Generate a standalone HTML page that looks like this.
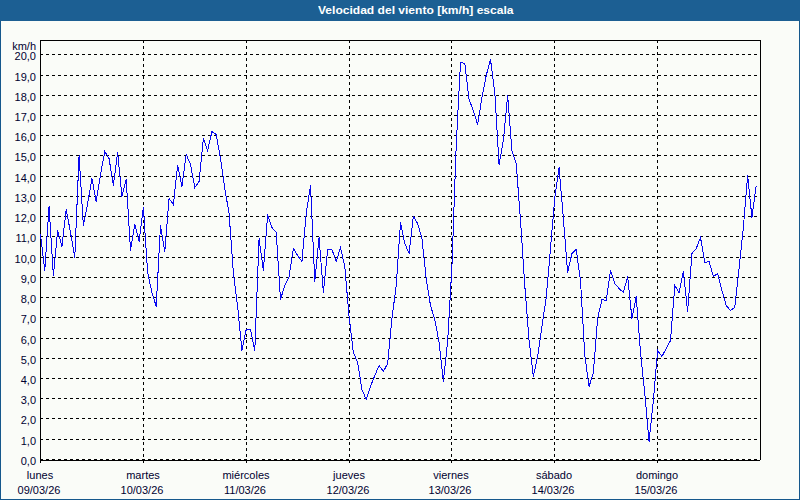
<!DOCTYPE html>
<html><head><meta charset="utf-8"><title>Velocidad del viento</title>
<style>
html,body{margin:0;padding:0;}
body{width:800px;height:500px;position:relative;overflow:hidden;background:#fafcf8;font-family:"Liberation Sans",sans-serif;}
#hdr{position:absolute;left:0;top:0;width:800px;height:21px;background:#1c5f93;}
#ttl{position:absolute;left:318px;top:3px;white-space:nowrap;color:#fff;font-weight:bold;font-size:11px;line-height:14px;transform:scaleX(1.095);transform-origin:0 0;}
#bl{position:absolute;left:0;top:21px;width:1px;height:479px;background:#15578c;}
#br{position:absolute;left:799px;top:21px;width:1px;height:479px;background:#15578c;}
#bb{position:absolute;left:0;top:499px;width:800px;height:1px;background:#15578c;}
.yl{position:absolute;left:0;width:36px;text-align:right;font-size:11px;line-height:14px;color:#000030;white-space:nowrap;}
.xl{position:absolute;width:80px;text-align:center;font-size:11px;line-height:14px;color:#000030;white-space:nowrap;}
#unit{position:absolute;left:0;top:39px;width:36px;text-align:right;font-size:11px;line-height:14px;color:#000030;}
</style></head><body>
<div id="hdr"></div>
<div id="ttl">Velocidad del viento [km/h] escala</div>
<svg width="800" height="500" style="position:absolute;left:0;top:0" shape-rendering="crispEdges"><line x1="40" y1="459.5" x2="760" y2="459.5" stroke="#000" stroke-width="1" stroke-dasharray="3 3"/><line x1="40" y1="439.5" x2="760" y2="439.5" stroke="#000" stroke-width="1" stroke-dasharray="3 3"/><line x1="40" y1="418.5" x2="760" y2="418.5" stroke="#000" stroke-width="1" stroke-dasharray="3 3"/><line x1="40" y1="398.5" x2="760" y2="398.5" stroke="#000" stroke-width="1" stroke-dasharray="3 3"/><line x1="40" y1="378.5" x2="760" y2="378.5" stroke="#000" stroke-width="1" stroke-dasharray="3 3"/><line x1="40" y1="358.5" x2="760" y2="358.5" stroke="#000" stroke-width="1" stroke-dasharray="3 3"/><line x1="40" y1="338.5" x2="760" y2="338.5" stroke="#000" stroke-width="1" stroke-dasharray="3 3"/><line x1="40" y1="317.5" x2="760" y2="317.5" stroke="#000" stroke-width="1" stroke-dasharray="3 3"/><line x1="40" y1="297.5" x2="760" y2="297.5" stroke="#000" stroke-width="1" stroke-dasharray="3 3"/><line x1="40" y1="277.5" x2="760" y2="277.5" stroke="#000" stroke-width="1" stroke-dasharray="3 3"/><line x1="40" y1="257.5" x2="760" y2="257.5" stroke="#000" stroke-width="1" stroke-dasharray="3 3"/><line x1="40" y1="236.5" x2="760" y2="236.5" stroke="#000" stroke-width="1" stroke-dasharray="3 3"/><line x1="40" y1="216.5" x2="760" y2="216.5" stroke="#000" stroke-width="1" stroke-dasharray="3 3"/><line x1="40" y1="196.5" x2="760" y2="196.5" stroke="#000" stroke-width="1" stroke-dasharray="3 3"/><line x1="40" y1="176.5" x2="760" y2="176.5" stroke="#000" stroke-width="1" stroke-dasharray="3 3"/><line x1="40" y1="155.5" x2="760" y2="155.5" stroke="#000" stroke-width="1" stroke-dasharray="3 3"/><line x1="40" y1="135.5" x2="760" y2="135.5" stroke="#000" stroke-width="1" stroke-dasharray="3 3"/><line x1="40" y1="115.5" x2="760" y2="115.5" stroke="#000" stroke-width="1" stroke-dasharray="3 3"/><line x1="40" y1="95.5" x2="760" y2="95.5" stroke="#000" stroke-width="1" stroke-dasharray="3 3"/><line x1="40" y1="75.5" x2="760" y2="75.5" stroke="#000" stroke-width="1" stroke-dasharray="3 3"/><line x1="40" y1="54.5" x2="760" y2="54.5" stroke="#000" stroke-width="1" stroke-dasharray="3 3"/><line x1="143.5" y1="40" x2="143.5" y2="460" stroke="#000" stroke-width="1" stroke-dasharray="3 3"/><rect x="143" y="460" width="1" height="3" fill="#000"/><line x1="246.5" y1="40" x2="246.5" y2="460" stroke="#000" stroke-width="1" stroke-dasharray="3 3"/><rect x="246" y="460" width="1" height="3" fill="#000"/><line x1="349.5" y1="40" x2="349.5" y2="460" stroke="#000" stroke-width="1" stroke-dasharray="3 3"/><rect x="349" y="460" width="1" height="3" fill="#000"/><line x1="451.5" y1="40" x2="451.5" y2="460" stroke="#000" stroke-width="1" stroke-dasharray="3 3"/><rect x="451" y="460" width="1" height="3" fill="#000"/><line x1="554.5" y1="40" x2="554.5" y2="460" stroke="#000" stroke-width="1" stroke-dasharray="3 3"/><rect x="554" y="460" width="1" height="3" fill="#000"/><line x1="657.5" y1="40" x2="657.5" y2="460" stroke="#000" stroke-width="1" stroke-dasharray="3 3"/><rect x="657" y="460" width="1" height="3" fill="#000"/><rect x="40" y="40" width="721" height="1" fill="#000"/><rect x="40" y="40" width="1" height="423" fill="#000"/><rect x="760" y="40" width="1" height="420" fill="#000"/><rect x="40" y="460" width="720" height="1" fill="#000"/><polyline fill="none" stroke="#0808f0" stroke-width="1" points="40.50,234.5 44.79,270.5 49.07,206.5 53.36,275.5 57.64,230.5 61.93,246.5 66.21,209.5 70.50,232.5 74.79,257.5 79.07,155.5 83.36,225.5 87.64,203.5 91.93,178.5 96.21,201.5 100.50,174.5 104.79,151.5 109.07,158.5 113.36,185.5 117.64,152.5 121.93,196.5 126.21,179.5 130.50,250.5 134.79,224.5 139.07,241.5 143.36,207.5 147.64,272.5 151.93,292.5 156.21,306.5 160.50,225.5 164.79,251.5 169.07,198.5 173.36,204.5 177.64,165.5 181.93,186.5 186.21,154.5 190.50,164.5 194.79,187.5 199.07,181.5 203.36,138.5 207.64,150.5 211.93,131.5 216.21,134.5 220.50,158.5 224.79,188.5 229.07,213.5 233.36,272.5 237.64,306.5 241.93,350.5 246.21,329.5 250.50,329.5 254.79,350.5 259.07,238.5 263.36,270.5 267.64,214.5 271.93,227.5 276.21,232.5 280.50,299.5 284.79,285.5 289.07,276.5 293.36,248.5 297.64,255.5 301.93,261.5 306.21,213.5 310.50,185.5 314.79,281.5 319.07,237.5 323.36,292.5 327.64,249.5 331.93,249.5 336.21,261.5 340.50,247.5 344.79,266.5 349.07,316.5 353.36,352.5 357.64,362.5 361.93,389.5 366.21,399.5 370.50,386.5 374.79,375.5 379.07,365.5 383.36,371.5 387.64,363.5 391.93,318.5 396.21,285.5 400.50,222.5 404.79,243.5 409.07,253.5 413.36,216.5 417.64,223.5 421.93,238.5 426.21,278.5 430.50,305.5 434.79,319.5 439.07,342.5 443.36,381.5 447.64,341.5 451.93,266.5 456.21,145.5 460.50,62.5 464.79,63.5 469.07,99.5 473.36,110.5 477.64,124.5 481.93,97.5 486.21,75.5 490.50,59.5 494.79,92.5 499.07,164.5 503.36,140.5 507.64,95.5 511.93,150.5 516.21,163.5 520.50,220.5 524.79,285.5 529.07,340.5 533.36,376.5 537.64,356.5 541.93,326.5 546.21,297.5 550.50,248.5 554.79,197.5 559.07,167.5 563.36,218.5 567.64,272.5 571.93,253.5 576.21,249.5 580.50,280.5 584.79,355.5 589.07,386.5 593.36,372.5 597.64,318.5 601.93,299.5 606.21,300.5 610.50,270.5 614.79,283.5 619.07,288.5 623.36,292.5 627.64,276.5 631.93,318.5 636.21,296.5 640.50,352.5 644.79,393.5 649.07,441.5 653.36,400.5 657.64,350.5 661.93,356.5 666.21,348.5 670.50,340.5 674.79,285.5 679.07,292.5 683.36,271.5 687.64,311.5 691.93,253.5 696.21,248.5 700.50,237.5 704.79,262.5 709.07,261.5 713.36,276.5 717.64,273.5 721.93,290.5 726.21,305.5 730.50,310.5 734.79,307.5 739.07,268.5 743.36,227.5 747.64,175.5 751.93,217.5 756.21,185.5"/></svg>
<div id="unit">km/h</div>
<div class="yl" style="top:454px">0,0</div><div class="yl" style="top:434px">1,0</div><div class="yl" style="top:413px">2,0</div><div class="yl" style="top:393px">3,0</div><div class="yl" style="top:373px">4,0</div><div class="yl" style="top:353px">5,0</div><div class="yl" style="top:333px">6,0</div><div class="yl" style="top:312px">7,0</div><div class="yl" style="top:292px">8,0</div><div class="yl" style="top:272px">9,0</div><div class="yl" style="top:252px">10,0</div><div class="yl" style="top:231px">11,0</div><div class="yl" style="top:211px">12,0</div><div class="yl" style="top:191px">13,0</div><div class="yl" style="top:171px">14,0</div><div class="yl" style="top:150px">15,0</div><div class="yl" style="top:130px">16,0</div><div class="yl" style="top:110px">17,0</div><div class="yl" style="top:90px">18,0</div><div class="yl" style="top:70px">19,0</div><div class="yl" style="top:49px">20,0</div><div class="xl" style="left:0px;top:468px">lunes</div><div class="xl" style="left:-1px;top:483px">09/03/26</div><div class="xl" style="left:103px;top:468px">martes</div><div class="xl" style="left:102px;top:483px">10/03/26</div><div class="xl" style="left:206px;top:468px">miércoles</div><div class="xl" style="left:205px;top:483px">11/03/26</div><div class="xl" style="left:309px;top:468px">jueves</div><div class="xl" style="left:308px;top:483px">12/03/26</div><div class="xl" style="left:411px;top:468px">viernes</div><div class="xl" style="left:410px;top:483px">13/03/26</div><div class="xl" style="left:514px;top:468px">sábado</div><div class="xl" style="left:513px;top:483px">14/03/26</div><div class="xl" style="left:617px;top:468px">domingo</div><div class="xl" style="left:616px;top:483px">15/03/26</div>
<div id="bl"></div><div id="br"></div><div id="bb"></div>
</body></html>
